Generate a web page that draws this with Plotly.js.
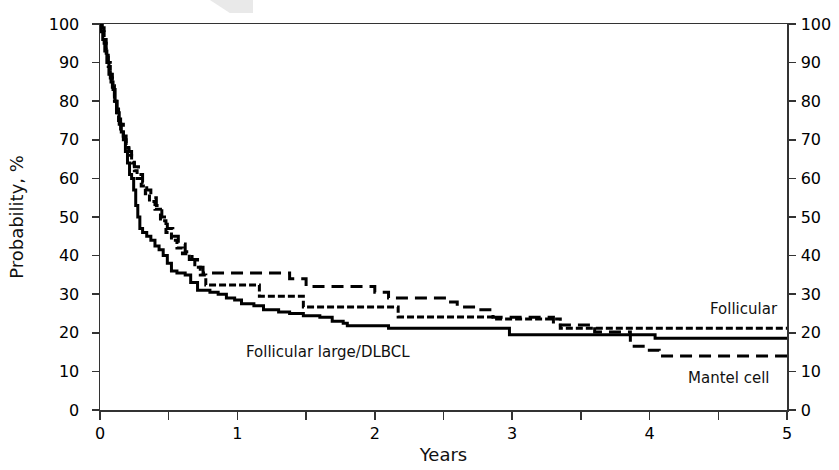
<!DOCTYPE html>
<html>
<head>
<meta charset="utf-8">
<script src="https://cdn.plot.ly/plotly-3.0.1.min.js"></script>
<style>html,body{margin:0;padding:0;background:#fff;}#chart{width:839px;height:470px;}</style>
</head>
<body>
<div id="chart"></div>
<script>
// Kaplan-Meier step curves (years, probability %)
const dlbclYears = [0,0.01,0.02,0.035,0.05,0.065,0.08,0.095,0.11,0.125,0.14,0.155,0.17,0.185,0.2,0.215,0.23,0.245,0.26,0.275,0.29,0.31,0.34,0.37,0.4,0.43,0.46,0.49,0.52,0.56,0.62,0.66,0.71,0.8,0.86,0.92,0.98,1.03,1.12,1.19,1.3,1.38,1.48,1.6,1.69,1.77,1.8,2.1,2.98,4.04,5];
const dlbclProb  = [100,98,96,93,90,87,85,83,80,77,74,72,70,67,64,61,60,57,53,50,47,46,45,44,42.5,41.5,40,38,36,35.5,35,33,31,30.5,30,29,28.5,27.5,27,26,25.4,25,24.4,24,23,22.5,21.8,21.2,19.5,18.6,18.6];

const follYears = [0,0.015,0.03,0.045,0.06,0.075,0.09,0.105,0.12,0.135,0.15,0.17,0.19,0.21,0.23,0.25,0.27,0.3,0.33,0.36,0.4,0.44,0.48,0.52,0.56,0.6,0.65,0.69,0.73,0.77,1.16,1.48,2.17,2.86,3.35,5];
const follProb  = [100,98,95,92,89,86,83,80,77,75,72,70,68,66,64,62,60,58,56,54,52,49,46,44,42,40.5,39,37,35,32.4,29.5,26.7,24.1,23.6,21.2,21.2];

const mantleYears = [0,0.015,0.03,0.045,0.06,0.075,0.09,0.105,0.12,0.135,0.15,0.17,0.19,0.21,0.23,0.25,0.28,0.31,0.34,0.37,0.41,0.45,0.49,0.53,0.57,0.62,0.67,0.71,0.75,1.38,1.5,2.0,2.1,2.53,2.6,2.75,2.86,3.3,3.6,3.86,3.97,4.07,5];
const mantleProb  = [100,99,96,93,90,87,84,81,78,76,74,71,69,67,65,63,61,59,57,55,53,50,47,45,43,41,39,37,35.5,34,32,30.5,29,28,26.7,26,24,22,20.2,16.5,15.5,14,14];

const xTicks = [0,1,2,3,4,5];
const yTicks = [0,10,20,30,40,50,60,70,80,90,100];

const labelFoll = 'Follicular';
const labelMantle = 'Mantel cell';
const labelDlbcl = 'Follicular large/DLBCL';

const FONT = 'DejaVu Sans, Verdana, sans-serif';
const AX = '#333';

const traces = [
  {x: dlbclYears, y: dlbclProb, mode: 'lines', line: {shape: 'hv', color: '#000', width: 3}, name: labelDlbcl},
  {x: follYears, y: follProb, mode: 'lines', line: {shape: 'hv', color: '#000', width: 3, dash: '7px,3px'}, name: labelFoll},
  {x: mantleYears, y: mantleProb, yaxis: 'y2', mode: 'lines', line: {shape: 'hv', color: '#000', width: 3, dash: '12px,7px'}, name: labelMantle}
];

const axisCommon = {
  showline: true, linecolor: AX, linewidth: 1.5,
  ticks: 'outside', ticklen: 7, tickwidth: 1.5, tickcolor: AX,
  showgrid: false, zeroline: false,
  tickfont: {family: FONT, size: 16, color: '#000'}
};

const layout = {
  width: 839, height: 470,
  margin: {l: 100, r: 52, t: 24, b: 60},
  paper_bgcolor: '#fff', plot_bgcolor: '#fff',
  showlegend: false,
  font: {family: FONT, color: '#111'},
  xaxis: Object.assign({}, axisCommon, {
    range: [0, 5], tickvals: xTicks, ticklen: 8, mirror: true,
    minor: {dtick: 0.5, ticks: 'outside', ticklen: 8, tickwidth: 1.5, tickcolor: AX},
    title: {text: 'Years', font: {family: FONT, size: 18, color: '#111'}, standoff: 6}
  }),
  yaxis: Object.assign({}, axisCommon, {
    range: [0, 100], tickvals: yTicks, ticklabelstandoff: 9,
    title: {text: 'Probability, %', font: {family: FONT, size: 18, color: '#111'}, standoff: 20}
  }),
  yaxis2: Object.assign({}, axisCommon, {
    range: [0, 100], tickvals: yTicks, overlaying: 'y', side: 'right', matches: 'y', ticklabelstandoff: 2
  }),
  annotations: [
    {x: 4.95, y: 26.2, xref: 'x', yref: 'y', text: labelFoll, showarrow: false, xanchor: 'right', yanchor: 'middle', font: {family: FONT, size: 15, color: '#111'}},
    {x: 4.89, y: 8.3, xref: 'x', yref: 'y', text: labelMantle, showarrow: false, xanchor: 'right', yanchor: 'middle', font: {family: FONT, size: 15, color: '#111'}},
    {x: 1.05, y: 15, xref: 'x', yref: 'y', text: labelDlbcl, showarrow: false, xanchor: 'left', yanchor: 'middle', font: {family: FONT, size: 15, color: '#111'}}
  ],
  shapes: [
    {type: 'path', xref: 'paper', yref: 'paper', path: 'M 0.160 1.062 L 0.2227 1.062 L 0.2227 1.0285 L 0.189 1.0285 Z', fillcolor: '#e9e9e9', line: {width: 0}, layer: 'below'}
  ]
};

Plotly.newPlot('chart', traces, layout, {displayModeBar: false, staticPlot: true});
</script>
</body>
</html>
